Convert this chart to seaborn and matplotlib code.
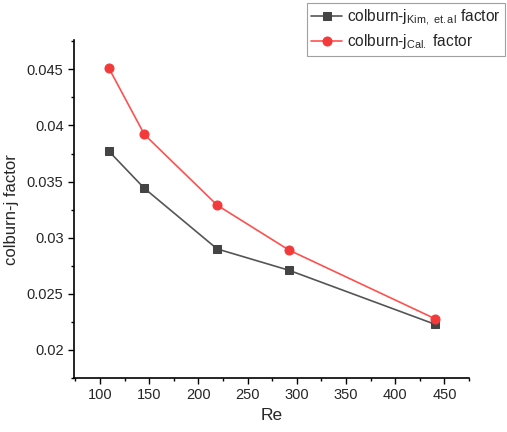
import numpy as np
import pandas as pd
import matplotlib
matplotlib.use("Agg")
import matplotlib.pyplot as plt
import seaborn as sns

re_vals = [109, 145, 219, 292, 440]
j_kim = [0.0377, 0.0344, 0.0290, 0.0271, 0.0223]
j_cal = [0.0451, 0.0392, 0.0329, 0.0289, 0.0228]

sns.set_style("ticks")
plt.rcParams["font.family"] = ["Liberation Sans", "DejaVu Sans"]
plt.rcParams["mathtext.fontset"] = "custom"
plt.rcParams["mathtext.rm"] = "Liberation Sans"
plt.rcParams["mathtext.it"] = "Liberation Sans"

df = pd.DataFrame({"Re": re_vals, "kim": j_kim, "cal": j_cal})

fig = plt.figure(figsize=(5.07, 4.32), dpi=100)
ax = fig.add_axes([0.146, 0.125, 0.779, 0.782])

sns.lineplot(data=df, x="Re", y="kim", ax=ax, color="#555555", marker="s",
             markersize=6, markerfacecolor="#444444", markeredgecolor="#444444",
             linewidth=1.2, label=r"colburn-j$_{\mathrm{Kim,\ et.al}}$ factor")
sns.lineplot(data=df, x="Re", y="cal", ax=ax, color="#ff5050", marker="o",
             markersize=6.5, markerfacecolor="#f23a3a", markeredgecolor="#f23a3a",
             linewidth=1.2, label=r"colburn-j$_{\mathrm{Cal.}}$ factor")

ax.set_xlim(73.5, 475)
ax.set_ylim(0.0175, 0.0476)
ax.set_xticks(np.arange(100, 451, 50))
ax.set_xticks(np.arange(75, 476, 25), minor=True)
ax.set_yticks([0.02, 0.025, 0.03, 0.035, 0.04, 0.045])
ax.set_yticklabels(["0.02", "0.025", "0.03", "0.035", "0.04", "0.045"])
ax.set_yticks(np.arange(0.0175, 0.0476, 0.0025), minor=True)
ax.tick_params(which="major", length=4, width=1, labelsize=10.5, color="black")
ax.tick_params(which="minor", length=2.5, width=1, color="black")
for s in ["top", "right"]:
    ax.spines[s].set_visible(False)
for s in ["left", "bottom"]:
    ax.spines[s].set_color("black")
    ax.spines[s].set_linewidth(1.2)

ax.set_xlabel("Re", fontsize=12.5)
ax.set_ylabel("colburn-j factor", fontsize=12, labelpad=6)

leg = ax.legend(loc="upper right", bbox_to_anchor=(1.0, 1 - 1 / 432),
                bbox_transform=fig.transFigure,
                fontsize=11.2, frameon=True, fancybox=False, handlelength=2.0,
                borderpad=0.3, borderaxespad=0.1, labelspacing=0.3,
                handletextpad=0.3)
leg.get_frame().set_edgecolor("#888888")
leg.get_frame().set_linewidth(0.8)

fig.savefig("out.png", dpi=100)
